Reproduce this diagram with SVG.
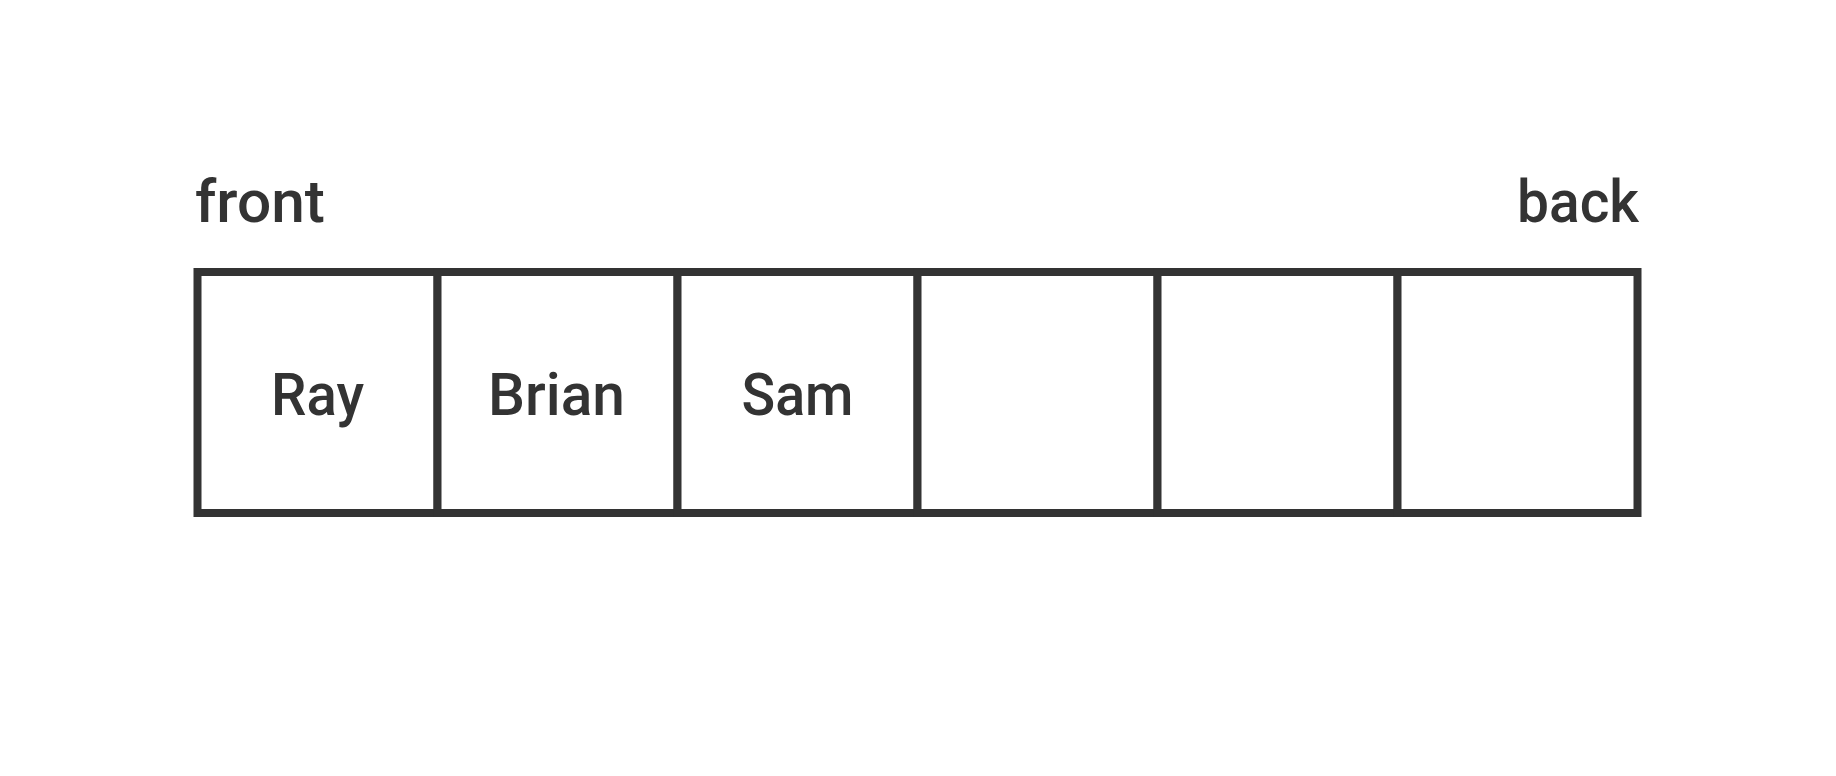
<svg xmlns="http://www.w3.org/2000/svg" width="1836" height="776" viewBox="0 0 1836 776">
<style>
.t{font-family:Roboto,"Open Sans","Liberation Sans",sans-serif;font-size:60px;font-weight:500;fill:#333333}
.cell{fill:#ffffff;stroke:#333333;stroke-width:8}
</style>
<rect width="1836" height="776" fill="#ffffff"/>
<g id="labels">
<text class="t" x="195" y="222" textLength="130" lengthAdjust="spacingAndGlyphs">front</text>
<text class="t" x="1639" y="222" text-anchor="end" textLength="122" lengthAdjust="spacingAndGlyphs">back</text>
</g>
<g id="cell1"><rect class="cell" x="197.5" y="272" width="240" height="241"/><text class="t" x="317.5" y="415" text-anchor="middle" textLength="93" lengthAdjust="spacingAndGlyphs">Ray</text></g>
<g id="cell2"><rect class="cell" x="437.5" y="272" width="240" height="241"/><text class="t" x="556.5" y="415" text-anchor="middle" textLength="137" lengthAdjust="spacingAndGlyphs">Brian</text></g>
<g id="cell3"><rect class="cell" x="677.5" y="272" width="240" height="241"/><text class="t" x="797.5" y="415" text-anchor="middle" textLength="112" lengthAdjust="spacingAndGlyphs">Sam</text></g>
<g id="cell4"><rect class="cell" x="917.5" y="272" width="240" height="241"/></g>
<g id="cell5"><rect class="cell" x="1157.5" y="272" width="240" height="241"/></g>
<g id="cell6"><rect class="cell" x="1397.5" y="272" width="240" height="241"/></g>
</svg>
